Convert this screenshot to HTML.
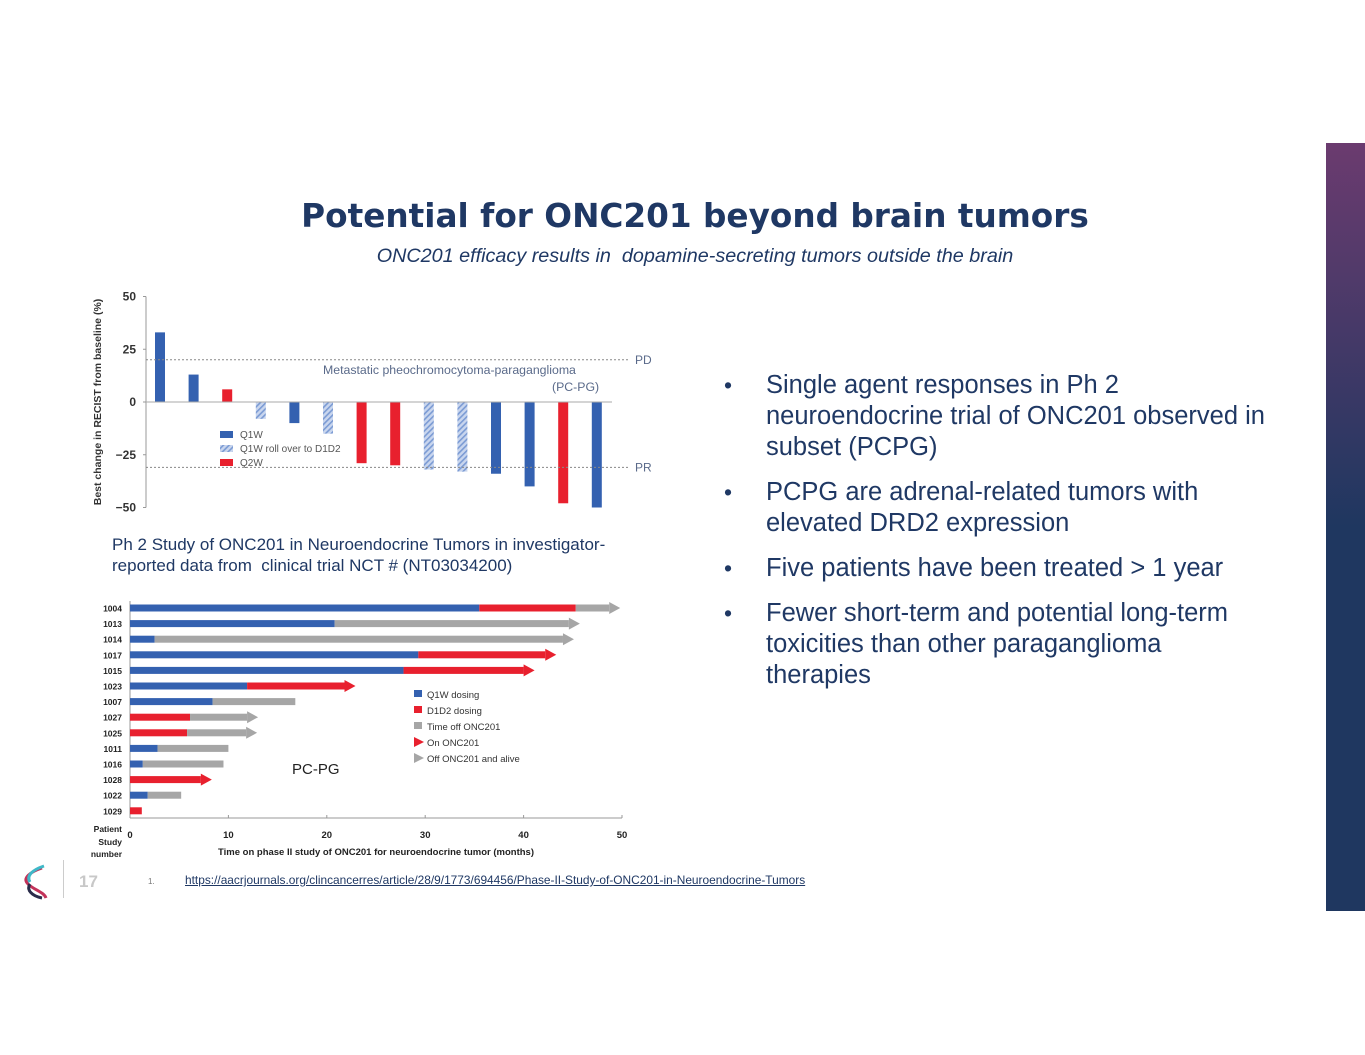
<!DOCTYPE html>
<html><head><meta charset="utf-8"><style>
body{margin:0;width:1365px;height:1055px;background:#fff;position:relative;overflow:hidden;font-family:"Liberation Sans",sans-serif}
.abs{position:absolute}
h1{position:absolute;left:0;width:1390px;top:197px;margin:0;text-align:center;font-family:"DejaVu Sans",sans-serif;font-size:32.7px;font-weight:bold;color:#1f3864}
.sub{left:0;width:1390px;top:245px;text-align:center;font-size:19.8px;font-style:italic;color:#1f3864}
ul{position:absolute;left:722px;top:370px;width:547px;margin:0;padding:0;list-style:none;color:#1f3864;font-size:25.5px;line-height:31px}
li{position:relative;padding-left:44px;margin-bottom:14px}
li:before{content:"•";position:absolute;left:2px;top:0;font-size:23px}
</style></head><body>
<h1>Potential for ONC201 beyond brain tumors</h1>
<div class="abs sub">ONC201 efficacy results in&nbsp; dopamine-secreting tumors outside the brain</div>

<svg class="abs" style="left:0;top:0" width="1365" height="1055" font-family="Liberation Sans, sans-serif">
<defs>
<pattern id="hatch" width="4" height="4" patternUnits="userSpaceOnUse" patternTransform="rotate(45)"><rect width="4" height="4" fill="#c9d6ee"/><rect width="1.6" height="4" fill="#7b9bd4"/></pattern>
<linearGradient id="side" x1="0" y1="0" x2="0" y2="1"><stop offset="0" stop-color="#6b3b6f"/><stop offset="0.5" stop-color="#1f3760"/><stop offset="1" stop-color="#1f3760"/></linearGradient>
</defs>
<g id="wf"></g>
<g id="sw"></g>
<rect x="1326" y="143" width="39" height="768" fill="url(#side)"/>
</svg>

<div class="abs" style="left:112px;top:534px;font-size:17px;line-height:21px;color:#1f3864">Ph 2 Study of ONC201 in Neuroendocrine Tumors in investigator-<br>reported data from&nbsp; clinical trial NCT # (NT03034200)</div>

<ul>
<li>Single agent responses in Ph 2 neuroendocrine trial of ONC201 observed in subset (PCPG)</li>
<li>PCPG are adrenal-related tumors with elevated DRD2 expression</li>
<li>Five patients have been treated &gt; 1 year</li>
<li>Fewer short-term and potential long-term toxicities than other paraganglioma therapies</li>
</ul>

<svg class="abs" style="left:20px;top:862px" width="40" height="40">
<path d="M22 6 C10 10 2 16 8 22 C14 28 24 30 26 36" stroke="#c2335a" stroke-width="3" fill="none"/>
<path d="M24 4 C12 8 6 14 10 20" stroke="#3fb8c8" stroke-width="3" fill="none"/>
<path d="M10 22 C6 28 12 34 22 36" stroke="#2a2c4a" stroke-width="3" fill="none"/>
</svg>
<div class="abs" style="left:63px;top:860px;width:1px;height:38px;background:#ccc"></div>
<div class="abs" style="left:79px;top:872px;font-size:17px;font-weight:bold;color:#c8c8c8">17</div>
<div class="abs" style="left:148px;top:877px;font-size:8px;color:#777">1.</div>
<div class="abs" style="left:185px;top:873px;font-size:11.9px;color:#1f3864;text-decoration:underline">https://aacrjournals.org/clincancerres/article/28/9/1773/694456/Phase-II-Study-of-ONC201-in-Neuroendocrine-Tumors</div>

<script>
const wfValues=[33,13,6,-8,-10,-15,-29,-30,-32,-33,-34,-40,-48,-50];
const wfTypes=["Q1W","Q1W","Q2W","ROLL","Q1W","ROLL","Q2W","Q2W","ROLL","ROLL","Q1W","Q1W","Q2W","Q1W"];
const wfTicks=[50,25,0,-25,-50];
const pdLine=20, prLine=-31;

const swPatients=["1004","1013","1014","1017","1015","1023","1007","1027","1025","1011","1016","1028","1022","1029"];
const swBlue=[35.5,20.8,2.5,29.3,27.8,11.9,8.4,0,0,2.8,1.3,0,1.8,0];
const swRed=[9.8,0,0,12.9,12.2,9.9,0,6.1,5.8,0,0,7.2,0,1.2];
const swGrey=[3.4,23.8,41.5,0,0,0,8.4,5.8,6.0,7.2,8.2,0,3.4,0];
const swArrow=[1,1,1,1,1,1,0,1,1,0,0,1,0,0];
const swTicks=[0,10,20,30,40,50];

const NS="http://www.w3.org/2000/svg";
function mk(p,t,a,txt){const e=document.createElementNS(NS,t);for(const k in a)e.setAttribute(k,a[k]);if(txt!==undefined)e.textContent=txt;p.appendChild(e);return e;}
const col={Q1W:"#3461b0",Q2W:"#e8202e",ROLL:"url(#hatch)"};

// waterfall
const wf=document.getElementById('wf');
const wy=v=>402-v*2.11, wx=i=>160+i*33.6;
mk(wf,'line',{x1:146,y1:wy(50),x2:146,y2:wy(-50),stroke:'#999'});
wfTicks.forEach(t=>{
 mk(wf,'line',{x1:143,y1:wy(t),x2:146,y2:wy(t),stroke:'#999'});
 const e=mk(wf,'text',{x:136,y:wy(t)+4,'text-anchor':'end','font-size':12,'font-weight':'bold',fill:'#333'},t<0?'−'+(-t):t);
 
 
});
mk(wf,'text',{transform:'translate(101,402) rotate(-90)','text-anchor':'middle','font-size':10.5,'font-weight':'bold',fill:'#333'},'Best change in RECIST from baseline (%)');
wfValues.forEach((v,i)=>{
 const r=mk(wf,'rect',{x:wx(i)-5,y:Math.min(wy(v),wy(0)),width:10,height:Math.abs(wy(v)-wy(0)),fill:col[wfTypes[i]]});
 
 
});
mk(wf,'line',{x1:146,y1:wy(0),x2:612,y2:wy(0),stroke:'#aaa'});
mk(wf,'line',{x1:146,y1:wy(pdLine),x2:628,y2:wy(pdLine),stroke:'#888','stroke-dasharray':'2,2'});
mk(wf,'line',{x1:146,y1:wy(prLine),x2:628,y2:wy(prLine),stroke:'#888','stroke-dasharray':'2,2'});
mk(wf,'text',{x:635,y:wy(pdLine)+4,'font-size':12,fill:'#5a6a8a'},'PD');
mk(wf,'text',{x:635,y:wy(prLine)+4,'font-size':12,fill:'#5a6a8a'},'PR');
mk(wf,'text',{x:323,y:374,'font-size':12.3,fill:'#5a6a8a'},'Metastatic pheochromocytoma-paraganglioma');
mk(wf,'text',{x:552,y:391,'font-size':12.3,fill:'#5a6a8a'},'(PC-PG)');
[["Q1W","Q1W"],["ROLL","Q1W roll over to D1D2"],["Q2W","Q2W"]].forEach((l,i)=>{
 mk(wf,'rect',{x:220,y:431+i*14,width:13,height:7,fill:col[l[0]]});
 mk(wf,'text',{x:240,y:438+i*14,'font-size':10,fill:'#555'},l[1]);
});

// swimmer
const sw=document.getElementById('sw');
const sx=v=>130+v*9.84, sy=i=>608+i*15.6;
mk(sw,'line',{x1:130,y1:601,x2:130,y2:818,stroke:'#999'});
mk(sw,'line',{x1:130,y1:818,x2:sx(50),y2:818,stroke:'#999'});
swTicks.forEach(t=>{
 mk(sw,'line',{x1:sx(t),y1:815,x2:sx(t),y2:818,stroke:'#999'});
 const e=mk(sw,'text',{x:sx(t),y:838,'text-anchor':'middle','font-size':9.5,'font-weight':'bold',fill:'#222'},t);
 
 
});
mk(sw,'text',{x:376,y:855,'text-anchor':'middle','font-size':9.5,'font-weight':'bold',fill:'#222'},'Time on phase II study of ONC201 for neuroendocrine tumor (months)');
[['Patient',832],['Study',845],['number',857]].forEach(a=>mk(sw,'text',{x:122,y:a[1],'text-anchor':'end','font-size':8.5,'font-weight':'bold',fill:'#222'},a[0]));
swPatients.forEach((p,i)=>{
 const y=sy(i);
 mk(sw,'text',{x:122,y:y+3.5,'text-anchor':'end','font-size':8.5,'font-weight':'bold',fill:'#222'},p);
 let s=0;
 [[swBlue[i],'#3461b0'],[swRed[i],'#e8202e'],[swGrey[i],'#a6a6a6']].forEach(seg=>{
  if(seg[0]>0){
   const r=mk(sw,'rect',{x:sx(s),y:y-3.5,width:seg[0]*9.84,height:7,fill:seg[1]});
   
   
   s+=seg[0];
  }
 });
 if(swArrow[i]){
  const c=swGrey[i]>0?'#a6a6a6':'#e8202e';
  mk(sw,'polygon',{points:`${sx(s)},${y-6} ${sx(s)+11},${y} ${sx(s)},${y+6}`,fill:c});
 }
});
[['#3461b0','Q1W dosing','r'],['#e8202e','D1D2 dosing','r'],['#a6a6a6','Time off ONC201','r'],['#e8202e','On ONC201','a'],['#a6a6a6','Off ONC201 and alive','a']].forEach((l,i)=>{
 const y=694+i*16;
 if(l[2]=='r')mk(sw,'rect',{x:414,y:y-4,width:8,height:7,fill:l[0]});
 else mk(sw,'polygon',{points:`414,${y-5} 424,${y} 414,${y+5}`,fill:l[0]});
 mk(sw,'text',{x:427,y:y+4,'font-size':9.5,fill:'#333'},l[1]);
});
mk(sw,'text',{x:292,y:774,'font-size':15,fill:'#222'},'PC-PG');
</script>
</body></html>
